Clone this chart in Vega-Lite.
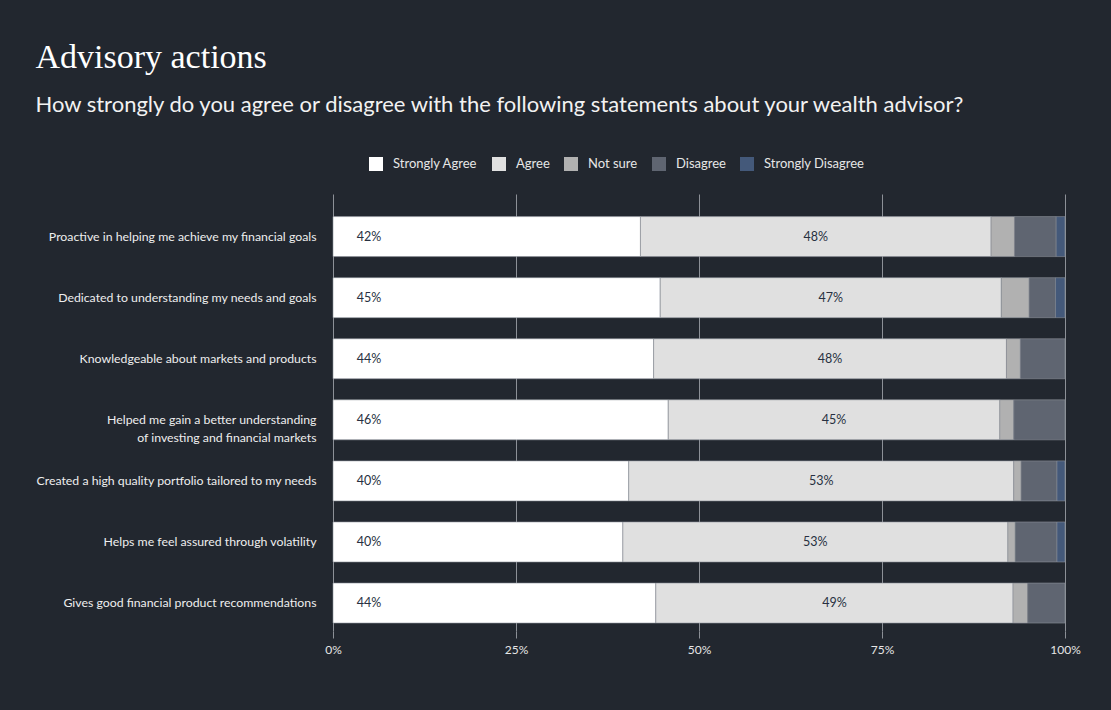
{
  "$schema": "https://vega.github.io/schema/vega-lite/v6.json",
  "autosize": {"type": "fit", "contains": "padding"},
  "width": 1111,
  "height": 710,
  "padding": {"left": 35, "right": 30, "top": 41, "bottom": 55},
  "background": "#22272f",
  "title": {
    "text": "Advisory actions",
    "subtitle": "How strongly do you agree or disagree with the following statements about your wealth advisor?",
    "anchor": "start",
    "frame": "bounds",
    "font": "Liberation Serif",
    "fontSize": 34,
    "fontWeight": "normal",
    "color": "#ffffff",
    "subtitleFont": "Lato",
    "subtitleFontSize": 22,
    "subtitleColor": "#f2f2f2",
    "subtitlePadding": 20,
    "offset": 78
  },
  "config": {
    "view": {"stroke": null},
    "font": "Lato"
  },
  "data": {
    "values": [
      {"statement": "Proactive in helping me achieve my financial goals", "response": "Strongly Agree", "rank": 1, "value": 0.42},
      {"statement": "Proactive in helping me achieve my financial goals", "response": "Agree", "rank": 2, "value": 0.479},
      {"statement": "Proactive in helping me achieve my financial goals", "response": "Not sure", "rank": 3, "value": 0.032},
      {"statement": "Proactive in helping me achieve my financial goals", "response": "Disagree", "rank": 4, "value": 0.057},
      {"statement": "Proactive in helping me achieve my financial goals", "response": "Strongly Disagree", "rank": 5, "value": 0.012},
      {"statement": "Dedicated to understanding my needs and goals", "response": "Strongly Agree", "rank": 1, "value": 0.447},
      {"statement": "Dedicated to understanding my needs and goals", "response": "Agree", "rank": 2, "value": 0.466},
      {"statement": "Dedicated to understanding my needs and goals", "response": "Not sure", "rank": 3, "value": 0.038},
      {"statement": "Dedicated to understanding my needs and goals", "response": "Disagree", "rank": 4, "value": 0.036},
      {"statement": "Dedicated to understanding my needs and goals", "response": "Strongly Disagree", "rank": 5, "value": 0.013},
      {"statement": "Knowledgeable about markets and products", "response": "Strongly Agree", "rank": 1, "value": 0.438},
      {"statement": "Knowledgeable about markets and products", "response": "Agree", "rank": 2, "value": 0.482},
      {"statement": "Knowledgeable about markets and products", "response": "Not sure", "rank": 3, "value": 0.019},
      {"statement": "Knowledgeable about markets and products", "response": "Disagree", "rank": 4, "value": 0.061},
      {"statement": "Helped me gain a better understanding\nof investing and financial markets", "response": "Strongly Agree", "rank": 1, "value": 0.458},
      {"statement": "Helped me gain a better understanding\nof investing and financial markets", "response": "Agree", "rank": 2, "value": 0.453},
      {"statement": "Helped me gain a better understanding\nof investing and financial markets", "response": "Not sure", "rank": 3, "value": 0.019},
      {"statement": "Helped me gain a better understanding\nof investing and financial markets", "response": "Disagree", "rank": 4, "value": 0.07},
      {"statement": "Created a high quality portfolio tailored to my needs", "response": "Strongly Agree", "rank": 1, "value": 0.404},
      {"statement": "Created a high quality portfolio tailored to my needs", "response": "Agree", "rank": 2, "value": 0.526},
      {"statement": "Created a high quality portfolio tailored to my needs", "response": "Not sure", "rank": 3, "value": 0.01},
      {"statement": "Created a high quality portfolio tailored to my needs", "response": "Disagree", "rank": 4, "value": 0.049},
      {"statement": "Created a high quality portfolio tailored to my needs", "response": "Strongly Disagree", "rank": 5, "value": 0.011},
      {"statement": "Helps me feel assured through volatility", "response": "Strongly Agree", "rank": 1, "value": 0.396},
      {"statement": "Helps me feel assured through volatility", "response": "Agree", "rank": 2, "value": 0.526},
      {"statement": "Helps me feel assured through volatility", "response": "Not sure", "rank": 3, "value": 0.01},
      {"statement": "Helps me feel assured through volatility", "response": "Disagree", "rank": 4, "value": 0.057},
      {"statement": "Helps me feel assured through volatility", "response": "Strongly Disagree", "rank": 5, "value": 0.011},
      {"statement": "Gives good financial product recommendations", "response": "Strongly Agree", "rank": 1, "value": 0.441},
      {"statement": "Gives good financial product recommendations", "response": "Agree", "rank": 2, "value": 0.488},
      {"statement": "Gives good financial product recommendations", "response": "Not sure", "rank": 3, "value": 0.02},
      {"statement": "Gives good financial product recommendations", "response": "Disagree", "rank": 4, "value": 0.051}
    ]
  },
  "encoding": {
    "y": {
      "field": "statement",
      "type": "nominal",
      "sort": null,
      "scale": {"paddingInner": 0.345, "paddingOuter": 0.25, "align": 0.74},
      "axis": {
        "title": null,
        "domain": false,
        "ticks": false,
        "labelPadding": 17,
        "labelFontSize": 12.3,
        "labelFont": "Lato",
        "labelColor": "#eeeeee",
        "labelLimit": 400,
        "labelLineHeight": 18,
        "labelExpr": "split(datum.label, '\\n')"
      }
    }
  },
  "layer": [
    {
      "mark": {"type": "bar", "stroke": "#8c9098", "strokeWidth": 0.6},
      "encoding": {
        "x": {
          "field": "value",
          "type": "quantitative",
          "stack": "normalize",
          "scale": {"domain": [0, 1]},
          "axis": {
            "title": null,
            "format": ".0%",
            "values": [0, 0.25, 0.5, 0.75, 1],
            "domain": false,
            "grid": true,
            "gridColor": "#8c9097",
            "gridWidth": 1,
            "tickColor": "#8c9097",
            "tickSize": 7,
            "labelFlush": false,
            "labelPadding": 6,
            "labelFontSize": 12,
            "labelFont": "Lato",
            "labelColor": "#e6e6e6"
          }
        },
        "color": {
          "field": "response",
          "type": "nominal",
          "sort": ["Strongly Agree", "Agree", "Not sure", "Disagree", "Strongly Disagree"],
          "scale": {
            "domain": ["Strongly Agree", "Agree", "Not sure", "Disagree", "Strongly Disagree"],
            "range": ["#ffffff", "#e0e0e0", "#b1b1b1", "#5f6571", "#44597a"]
          },
          "legend": {
            "title": null,
            "orient": "none",
            "direction": "horizontal",
            "legendX": 36,
            "legendY": -37,
            "symbolType": "square",
            "symbolSize": 196,
            "symbolStrokeWidth": 0,
            "symbolOpacity": 1,
            "labelOffset": 10,
            "columnPadding": 14,
            "labelFontSize": 13,
            "labelFont": "Lato",
            "labelColor": "#e6e6e6"
          }
        },
        "order": {"field": "rank", "type": "quantitative"}
      }
    },
    {
      "mark": {"type": "text", "font": "Lato", "fontSize": 12.5, "color": "#273041"},
      "encoding": {
        "x": {"field": "value", "type": "quantitative", "stack": "normalize", "bandPosition": 0.5},
        "detail": {"field": "response", "type": "nominal"},
        "order": {"field": "rank", "type": "quantitative"},
        "text": {"field": "value", "type": "quantitative", "format": ".0%"},
        "opacity": {"condition": {"test": "datum.response === 'Agree'", "value": 1}, "value": 0}
      }
    },
    {
      "transform": [{"filter": "datum.response === 'Strongly Agree'"}],
      "mark": {"type": "text", "font": "Lato", "fontSize": 12.5, "color": "#273041", "dx": 36},
      "encoding": {
        "x": {"datum": 0, "type": "quantitative"},
        "text": {"field": "value", "type": "quantitative", "format": ".0%"}
      }
    }
  ]
}
